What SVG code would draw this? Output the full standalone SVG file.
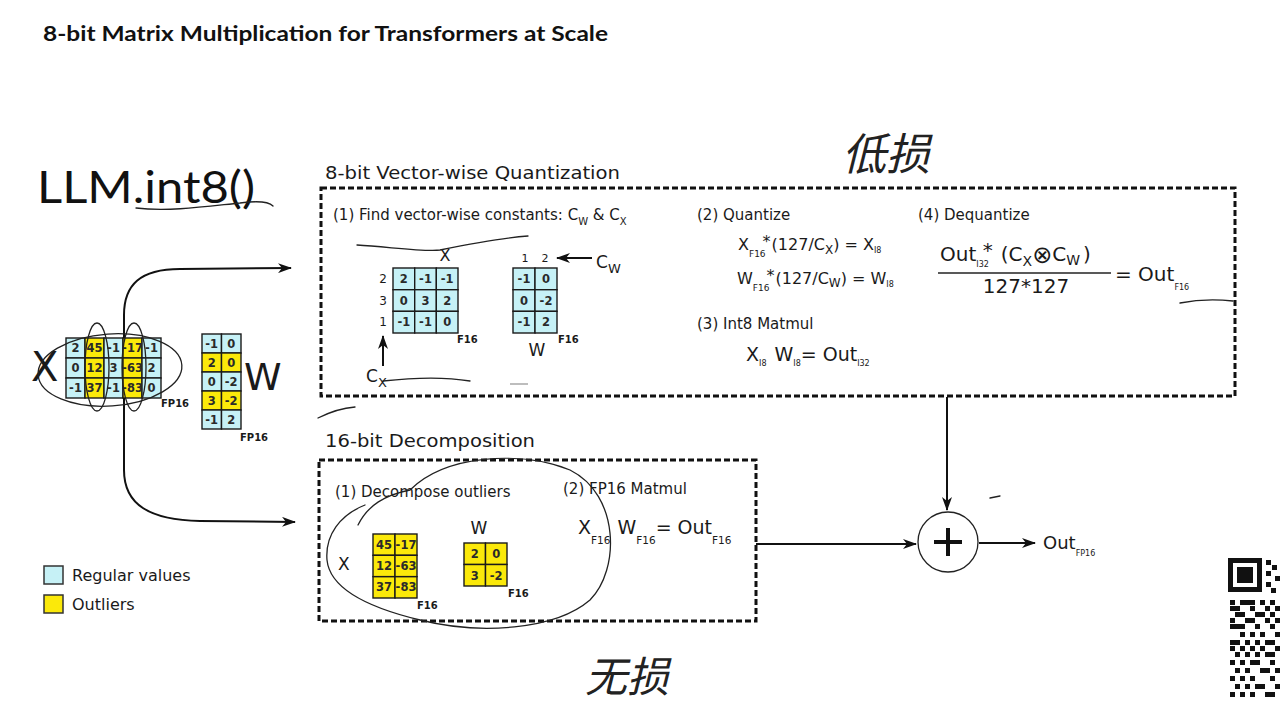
<svg xmlns="http://www.w3.org/2000/svg" width="1280" height="703" viewBox="0 0 1280 703">
<defs>
<style>
.t{font-family:"DejaVu Sans","Liberation Sans",sans-serif;fill:#1a1a1a}
.c{fill:#c6f1f6;stroke:#1a1a1a;stroke-width:1.4}
.y{fill:#fbe90a;stroke:#1a1a1a;stroke-width:1.4}
.n{font-family:"DejaVu Sans","Liberation Sans",sans-serif;font-size:11.5px;font-weight:bold;fill:#2a2a2a;text-anchor:middle}
.box{fill:none;stroke:#111;stroke-width:3;stroke-dasharray:6 3}
.ln{fill:none;stroke:#111;stroke-width:2}
.hw{fill:none;stroke:#222;stroke-width:1.3;stroke-linecap:round}
.sub{font-size:10px}
.q{fill:#111}
</style>
<marker id="ah" viewBox="0 0 14 10" refX="13" refY="5" markerWidth="14" markerHeight="10" markerUnits="userSpaceOnUse" orient="auto">
<path d="M0,0 L14,5 L0,10 L4,5 Z" fill="#111"/>
</marker>
</defs>
<rect width="1280" height="703" fill="#fff"/>

<text x="43" y="41" font-family="Lato,'Open Sans',sans-serif" font-weight="bold" font-size="21" fill="#111" textLength="565" lengthAdjust="spacingAndGlyphs">8-bit Matrix Multiplication for Transformers at Scale</text>
<text x="37" y="203" font-family="Lato,'Open Sans',sans-serif" font-size="44" fill="#111" textLength="218" lengthAdjust="spacingAndGlyphs">LLM.int8()</text>

<!-- left input X -->
<g id="input-x">
<text class="t" x="31" y="381" font-size="40">X</text>
<rect class="c" x="66" y="338" width="19" height="20"/><rect class="y" x="85" y="338" width="19" height="20"/><rect class="c" x="104" y="338" width="19" height="20"/><rect class="y" x="123" y="338" width="19" height="20"/><rect class="c" x="142" y="338" width="19" height="20"/>
<rect class="c" x="66" y="358" width="19" height="20"/><rect class="y" x="85" y="358" width="19" height="20"/><rect class="c" x="104" y="358" width="19" height="20"/><rect class="y" x="123" y="358" width="19" height="20"/><rect class="c" x="142" y="358" width="19" height="20"/>
<rect class="c" x="66" y="378" width="19" height="20"/><rect class="y" x="85" y="378" width="19" height="20"/><rect class="c" x="104" y="378" width="19" height="20"/><rect class="y" x="123" y="378" width="19" height="20"/><rect class="c" x="142" y="378" width="19" height="20"/>
<text class="n" x="75.5" y="352">2</text><text class="n" x="94.5" y="352">45</text><text class="n" x="113.5" y="352">-1</text><text class="n" x="132.5" y="352">-17</text><text class="n" x="151.5" y="352">-1</text>
<text class="n" x="75.5" y="372">0</text><text class="n" x="94.5" y="372">12</text><text class="n" x="113.5" y="372">3</text><text class="n" x="132.5" y="372">-63</text><text class="n" x="151.5" y="372">2</text>
<text class="n" x="75.5" y="392">-1</text><text class="n" x="94.5" y="392">37</text><text class="n" x="113.5" y="392">-1</text><text class="n" x="132.5" y="392">-83</text><text class="n" x="151.5" y="392">0</text>
<text class="t" x="161" y="407" font-size="10" font-weight="bold">FP16</text>
</g>

<!-- left input W -->
<g id="input-w">
<rect class="c" x="202" y="334" width="19.5" height="19"/><rect class="c" x="221.5" y="334" width="19.5" height="19"/>
<rect class="y" x="202" y="353" width="19.5" height="19"/><rect class="y" x="221.5" y="353" width="19.5" height="19"/>
<rect class="c" x="202" y="372" width="19.5" height="19"/><rect class="c" x="221.5" y="372" width="19.5" height="19"/>
<rect class="y" x="202" y="391" width="19.5" height="19"/><rect class="y" x="221.5" y="391" width="19.5" height="19"/>
<rect class="c" x="202" y="410" width="19.5" height="19"/><rect class="c" x="221.5" y="410" width="19.5" height="19"/>
<text class="n" x="211.7" y="348">-1</text><text class="n" x="231.2" y="348">0</text>
<text class="n" x="211.7" y="367">2</text><text class="n" x="231.2" y="367">0</text>
<text class="n" x="211.7" y="386">0</text><text class="n" x="231.2" y="386">-2</text>
<text class="n" x="211.7" y="405">3</text><text class="n" x="231.2" y="405">-2</text>
<text class="n" x="211.7" y="424">-1</text><text class="n" x="231.2" y="424">2</text>
<text class="t" x="240" y="441" font-size="10" font-weight="bold">FP16</text>
<text class="t" x="244" y="390" font-size="38">W</text>
</g>

<!-- 8-bit vector-wise quantization -->
<g id="vector-wise-quantization">
<text class="t" x="325" y="179" font-size="18" textLength="295" lengthAdjust="spacingAndGlyphs">8-bit Vector-wise Quantization</text>
<rect class="box" x="321" y="188" width="914" height="208"/>
<text class="t" x="333" y="220" font-size="15">(1) Find vector-wise constants: C<tspan class="sub" dy="5">W</tspan><tspan dy="-5"> &amp; C</tspan><tspan class="sub" dy="5" font-size="13">X</tspan></text>
<text class="t" x="445" y="261" font-size="16" text-anchor="middle">X</text>
<text class="t" x="383" y="283" font-size="12" text-anchor="middle">2</text>
<text class="t" x="383" y="305" font-size="12" text-anchor="middle">3</text>
<text class="t" x="383" y="326" font-size="12" text-anchor="middle">1</text>
<rect class="c" x="393" y="268" width="21.7" height="21.7"/><rect class="c" x="414.7" y="268" width="21.7" height="21.7"/><rect class="c" x="436.3" y="268" width="21.7" height="21.7"/>
<rect class="c" x="393" y="289.7" width="21.7" height="21.7"/><rect class="c" x="414.7" y="289.7" width="21.7" height="21.7"/><rect class="c" x="436.3" y="289.7" width="21.7" height="21.7"/>
<rect class="c" x="393" y="311.3" width="21.7" height="21.7"/><rect class="c" x="414.7" y="311.3" width="21.7" height="21.7"/><rect class="c" x="436.3" y="311.3" width="21.7" height="21.7"/>
<text class="n" x="403.8" y="283">2</text><text class="n" x="425.5" y="283">-1</text><text class="n" x="447.2" y="283">-1</text>
<text class="n" x="403.8" y="305">0</text><text class="n" x="425.5" y="305">3</text><text class="n" x="447.2" y="305">2</text>
<text class="n" x="403.8" y="326">-1</text><text class="n" x="425.5" y="326">-1</text><text class="n" x="447.2" y="326">0</text>
<text class="t" x="457" y="343" font-size="10" font-weight="bold">F16</text>
<text class="t" x="366" y="382" font-size="17">C<tspan font-size="13" dy="5">X</tspan></text>
<text class="t" x="525" y="262" font-size="11" text-anchor="middle">1</text>
<text class="t" x="545" y="262" font-size="11" text-anchor="middle">2</text>
<rect class="c" x="513" y="268" width="22" height="21.7"/><rect class="c" x="535" y="268" width="22" height="21.7"/>
<rect class="c" x="513" y="289.7" width="22" height="21.7"/><rect class="c" x="535" y="289.7" width="22" height="21.7"/>
<rect class="c" x="513" y="311.3" width="22" height="21.7"/><rect class="c" x="535" y="311.3" width="22" height="21.7"/>
<text class="n" x="524" y="283">-1</text><text class="n" x="546" y="283">0</text>
<text class="n" x="524" y="305">0</text><text class="n" x="546" y="305">-2</text>
<text class="n" x="524" y="326">-1</text><text class="n" x="546" y="326">2</text>
<text class="t" x="537" y="356" font-size="17" text-anchor="middle">W</text>
<text class="t" x="558" y="343" font-size="10" font-weight="bold">F16</text>
<text class="t" x="596" y="268" font-size="17">C<tspan font-size="13" dy="5">W</tspan></text>

<text class="t" x="697" y="220" font-size="15">(2) Quantize</text>
<text class="t" x="738" y="250" font-size="16">X<tspan font-size="9" dy="7">F16</tspan><tspan dx="-3" dy="-10">*</tspan><tspan dx="1" dy="3">(127/C</tspan><tspan font-size="12" dy="4">X</tspan><tspan dy="-4">) = X</tspan><tspan font-size="8" dy="3">I8</tspan></text>
<text class="t" x="737" y="284" font-size="16">W<tspan font-size="9" dy="7">F16</tspan><tspan dx="-3" dy="-10">*</tspan><tspan dx="1" dy="3">(127/C</tspan><tspan font-size="12" dy="3">W</tspan><tspan dy="-3">) = W</tspan><tspan font-size="8" dy="3">I8</tspan></text>
<text class="t" x="697" y="329" font-size="15">(3) Int8 Matmul</text>
<text class="t" x="746" y="361" font-size="19">X<tspan font-size="8" dy="5">I8</tspan><tspan dx="8" dy="-5">W</tspan><tspan font-size="8" dy="5">I8</tspan><tspan dy="-5">= Out</tspan><tspan font-size="8" dy="5">I32</tspan></text>

<text class="t" x="918" y="220" font-size="15">(4) Dequantize</text>
<text class="t" x="940" y="261" font-size="20">Out<tspan font-size="8" dy="6">I32</tspan><tspan dx="-6" dy="-10">*</tspan><tspan dx="8" dy="4">(C</tspan><tspan font-size="14" dy="5">X</tspan><tspan font-size="24" dy="-3">⊗</tspan><tspan dy="-2">C</tspan><tspan font-size="14" dy="4">W</tspan><tspan dx="3" dy="-4">)</tspan></text>
<line x1="938" y1="273" x2="1111" y2="273" stroke="#222" stroke-width="1.3"/>
<text class="t" x="1026" y="293" font-size="20" text-anchor="middle">127*127</text>
<text class="t" x="1115" y="281" font-size="20">= Out<tspan font-size="8" dy="9">F16</tspan></text>
</g>

<!-- 16-bit decomposition -->
<g id="decomposition">
<text class="t" x="325" y="447" font-size="18" textLength="210" lengthAdjust="spacingAndGlyphs">16-bit Decomposition</text>
<rect class="box" x="319" y="460" width="437" height="161"/>
<text class="t" x="335" y="497" font-size="15">(1) Decompose outliers</text>
<text class="t" x="563" y="494" font-size="15">(2) FP16 Matmul</text>
<text class="t" x="338" y="570" font-size="17">X</text>
<rect class="y" x="373" y="534" width="22" height="21.3"/><rect class="y" x="395" y="534" width="22" height="21.3"/>
<rect class="y" x="373" y="555.3" width="22" height="21.3"/><rect class="y" x="395" y="555.3" width="22" height="21.3"/>
<rect class="y" x="373" y="576.7" width="22" height="21.3"/><rect class="y" x="395" y="576.7" width="22" height="21.3"/>
<text class="n" x="384" y="549">45</text><text class="n" x="406" y="549">-17</text>
<text class="n" x="384" y="570">12</text><text class="n" x="406" y="570">-63</text>
<text class="n" x="384" y="591">37</text><text class="n" x="406" y="591">-83</text>
<text class="t" x="417" y="609" font-size="10" font-weight="bold">F16</text>
<text class="t" x="479" y="534" font-size="17" text-anchor="middle">W</text>
<rect class="y" x="464" y="543" width="21.5" height="21.5"/><rect class="y" x="485.5" y="543" width="21.5" height="21.5"/>
<rect class="y" x="464" y="564.5" width="21.5" height="21.5"/><rect class="y" x="485.5" y="564.5" width="21.5" height="21.5"/>
<text class="n" x="474.7" y="558">2</text><text class="n" x="496.2" y="558">0</text>
<text class="n" x="474.7" y="580">3</text><text class="n" x="496.2" y="580">-2</text>
<text class="t" x="508" y="597" font-size="10" font-weight="bold">F16</text>
<text class="t" x="578" y="534" font-size="19">X<tspan font-size="10.5" dy="10">F16</tspan><tspan dx="7" dy="-10">W</tspan><tspan font-size="10.5" dy="10">F16</tspan><tspan dy="-10">= Out</tspan><tspan font-size="10.5" dy="10">F16</tspan></text>
</g>

<!-- sum node -->
<g id="sum">
<circle cx="948" cy="542" r="30" fill="#fff" stroke="#222" stroke-width="1.3"/>
<line x1="934" y1="542" x2="962" y2="542" stroke="#111" stroke-width="4"/>
<line x1="948" y1="528" x2="948" y2="556" stroke="#111" stroke-width="4"/>
</g>
<g id="output">
<text class="t" x="1043" y="549" font-size="18">Out<tspan font-size="8" dy="7">FP16</tspan></text>
</g>

<!-- legend -->
<g id="legend">
<rect x="44" y="566" width="19" height="18" fill="#c6f1f6" stroke="#333" stroke-width="1.5"/>
<text class="t" x="72" y="581" font-size="16">Regular values</text>
<rect x="44" y="595" width="19" height="18" fill="#fbe90a" stroke="#333" stroke-width="1.5"/>
<text class="t" x="72" y="610" font-size="16">Outliers</text>
</g>

<!-- connectors -->
<g id="connectors">
<path class="ln" d="M124,338 L124,315 C124,285 140,269 180,269 L291,268" marker-end="url(#ah)"/>
<path class="ln" d="M124,398 L124,470 C124,505 150,520 200,521 L295,522" marker-end="url(#ah)"/>
<line class="ln" x1="383" y1="366" x2="383" y2="336" stroke-width="1.4" marker-end="url(#ah)"/>
<line class="ln" x1="592" y1="258" x2="557" y2="258" stroke-width="1.4" marker-end="url(#ah)"/>
<line class="ln" x1="947" y1="397" x2="947" y2="510" marker-end="url(#ah)"/>
<line class="ln" x1="756" y1="544" x2="916" y2="544" marker-end="url(#ah)"/>
<line class="ln" x1="979" y1="543" x2="1035" y2="543" marker-end="url(#ah)"/>
</g>

<!-- handwritten annotations -->
<g id="annotations">
<path class="hw" d="M136,208 C170,212 210,206 240,203 C255,201 268,201 273,206"/>
<ellipse class="hw" cx="110" cy="370" rx="72" ry="36" transform="rotate(-4 110 370)"/>
<ellipse class="hw" cx="97" cy="367" rx="12" ry="44"/>
<ellipse class="hw" cx="134" cy="367" rx="12" ry="44"/>
<path class="hw" d="M357,245 C390,247 425,252 440,250 C470,244 500,238 528,236"/>
<path class="hw" d="M383,381 C410,378 440,376 470,381"/>
<line x1="510" y1="384" x2="528" y2="384" stroke="#999" stroke-width="1.3"/>
<path class="hw" d="M1180,303 C1195,300 1215,299 1233,301"/>
<path class="hw" d="M318,418 C330,412 342,408 355,407"/>
<path class="hw" d="M990,498 L1000,496"/>
<path class="hw" d="M358,525 C368,505 385,495 410,490 M410,490 C445,455 520,450 570,470 C620,495 620,570 590,600 C555,630 480,635 420,620 C370,608 330,590 327,560 C325,535 340,515 365,505"/>
<text x="842" y="170" font-family="'Noto Sans CJK SC',sans-serif" font-size="44" fill="#222" font-style="italic">低损</text>
<text x="585" y="692" font-family="'Noto Sans CJK SC',sans-serif" font-size="42" fill="#222" font-style="italic">无损</text>
</g>

<!-- qr fragment -->
<g id="qr">
<rect x="1228" y="558" width="34" height="34" class="q"/>
<rect x="1233" y="563" width="24" height="24" fill="#fff"/>
<rect x="1237" y="567" width="16" height="16" class="q"/>
<g class="q">
<rect x="1266" y="560" width="5" height="5"/><rect x="1272" y="565" width="5" height="5"/><rect x="1266" y="571" width="5" height="5"/><rect x="1275" y="576" width="5" height="5"/><rect x="1266" y="582" width="5" height="5"/><rect x="1271" y="588" width="5" height="5"/>
<rect x="1230" y="600" width="5" height="5"/><rect x="1240" y="600" width="5" height="5"/><rect x="1245" y="600" width="5" height="5"/><rect x="1250" y="600" width="5" height="5"/><rect x="1260" y="600" width="5" height="5"/><rect x="1270" y="600" width="5" height="5"/>
<rect x="1230" y="606" width="5" height="5"/><rect x="1235" y="606" width="5" height="5"/><rect x="1250" y="606" width="5" height="5"/><rect x="1265" y="606" width="5" height="5"/><rect x="1275" y="606" width="5" height="5"/>
<rect x="1235" y="612" width="5" height="5"/><rect x="1240" y="612" width="5" height="5"/><rect x="1255" y="612" width="5" height="5"/><rect x="1260" y="612" width="5" height="5"/><rect x="1270" y="612" width="5" height="5"/>
<rect x="1230" y="618" width="5" height="5"/><rect x="1245" y="618" width="5" height="5"/><rect x="1250" y="618" width="5" height="5"/><rect x="1265" y="618" width="5" height="5"/><rect x="1275" y="618" width="5" height="5"/>
<rect x="1230" y="624" width="5" height="5"/><rect x="1235" y="624" width="5" height="5"/><rect x="1240" y="624" width="5" height="5"/><rect x="1255" y="624" width="5" height="5"/><rect x="1270" y="624" width="5" height="5"/>
<rect x="1240" y="632" width="5" height="5"/><rect x="1250" y="632" width="5" height="5"/><rect x="1260" y="632" width="5" height="5"/><rect x="1275" y="632" width="5" height="5"/>
<rect x="1230" y="640" width="5" height="5"/><rect x="1235" y="640" width="5" height="5"/><rect x="1245" y="640" width="5" height="5"/><rect x="1255" y="640" width="5" height="5"/><rect x="1265" y="640" width="5" height="5"/><rect x="1270" y="640" width="5" height="5"/>
<rect x="1230" y="646" width="5" height="5"/><rect x="1240" y="646" width="5" height="5"/><rect x="1250" y="646" width="5" height="5"/><rect x="1260" y="646" width="5" height="5"/><rect x="1275" y="646" width="5" height="5"/>
<rect x="1235" y="652" width="5" height="5"/><rect x="1245" y="652" width="5" height="5"/><rect x="1255" y="652" width="5" height="5"/><rect x="1265" y="652" width="5" height="5"/><rect x="1270" y="652" width="5" height="5"/>
<rect x="1230" y="660" width="5" height="5"/><rect x="1240" y="660" width="5" height="5"/><rect x="1250" y="660" width="5" height="5"/><rect x="1255" y="660" width="5" height="5"/><rect x="1270" y="660" width="5" height="5"/>
<rect x="1235" y="668" width="5" height="5"/><rect x="1245" y="668" width="5" height="5"/><rect x="1260" y="668" width="5" height="5"/><rect x="1265" y="668" width="5" height="5"/><rect x="1275" y="668" width="5" height="5"/>
<rect x="1230" y="676" width="5" height="5"/><rect x="1240" y="676" width="5" height="5"/><rect x="1250" y="676" width="5" height="5"/><rect x="1270" y="676" width="5" height="5"/>
<rect x="1235" y="684" width="5" height="5"/><rect x="1245" y="684" width="5" height="5"/><rect x="1255" y="684" width="5" height="5"/><rect x="1260" y="684" width="5" height="5"/><rect x="1275" y="684" width="5" height="5"/>
<rect x="1230" y="692" width="5" height="5"/><rect x="1240" y="692" width="5" height="5"/><rect x="1250" y="692" width="5" height="5"/><rect x="1265" y="692" width="5" height="5"/><rect x="1270" y="692" width="5" height="5"/>
</g>
</g>
</svg>
